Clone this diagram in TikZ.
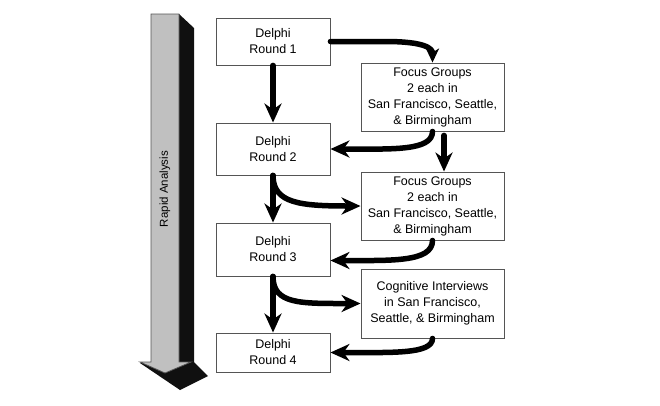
\documentclass[tikz,border=0pt]{standalone}
\usepackage{fontspec}
\setmainfont{Liberation Sans}
\usetikzlibrary{arrows.meta}
\definecolor{facegray}{RGB}{192,192,192}
\definecolor{shadegray}{RGB}{16,16,16}
\definecolor{rimgray}{RGB}{85,85,85}

\begin{document}
\begin{tikzpicture}[x=1pt,y=-1pt,
  stage/.style={draw=rimgray,line width=0.9pt,fill=white,align=center,
    font=\fontsize{12.5}{16}\selectfont,inner sep=0pt},
  flow/.style={line width=5.5pt,line cap=round,
    -{Stealth[length=19pt,width=17pt,inset=6pt]}},
  flowsmall/.style={line width=5.5pt,line cap=round,
    -{Stealth[length=14pt,width=13pt,inset=4pt]}}]
  \useasboundingbox (0,0) rectangle (660,405);
  % big arrow on the left
  \fill[shadegray] (179,14) -- (194,28) -- (194,362) -- (208,376) -- (180,390)
    -- (140,363) -- (179,362) -- cycle;
  \filldraw[fill=facegray,draw=rimgray,line width=0.8pt]
    (151,14) -- (179,14) -- (179,362) -- (191,362) -- (165,373) -- (140,362)
    -- (151,362) -- cycle;
  \node[rotate=90,font=\fontsize{11.5}{14}\selectfont] (rapid) at (165,189) {Rapid Analysis};
  % Delphi rounds
  \node[stage,minimum width=114pt,minimum height=47pt] (r1) at (273,41.5) {Delphi\\Round 1};
  \node[stage,minimum width=114pt,minimum height=52pt] (r2) at (273,149) {Delphi\\Round 2};
  \node[stage,minimum width=114pt,minimum height=53pt] (r3) at (273,249.5) {Delphi\\Round 3};
  \node[stage,minimum width=114pt,minimum height=39pt] (r4) at (273,352.5) {Delphi\\Round 4};
  % field work
  \node[stage,minimum width=143pt,minimum height=68pt] (fg1) at (432.5,97)
    {Focus Groups\\2 each in\\San Francisco, Seattle,\\\& Birmingham};
  \node[stage,minimum width=143pt,minimum height=68pt] (fg2) at (432.5,206)
    {Focus Groups\\2 each in\\San Francisco, Seattle,\\\& Birmingham};
  \node[stage,minimum width=143pt,minimum height=69pt] (ci) at (432.5,303.5)
    {Cognitive Interviews\\in San Francisco,\\Seattle, \& Birmingham};
  % connectors
  \draw[flowsmall] (r1.east) -- ++(55,0) .. controls +(40,0) and +(0,-14) .. (fg1.north);
  \draw[flow] (r1.south) -- (r2.north);
  \draw[flow] (fg1.south) .. controls +(0,20) and +(60,0) .. (r2.east);
  \draw[flow,shorten <=4pt] ([xshift=11.5pt]fg1.south) -- ([xshift=11.5pt]fg2.north);
  \draw[flow] (r2.south) -- (r3.north);
  \draw[flow] (r2.south) .. controls +(0,28) and +(-60,0) .. (fg2.west);
  \draw[flow] (fg2.south) .. controls +(0,22) and +(60,0) .. ([yshift=-11pt]r3.east);
  \draw[flow] (r3.south) -- (r4.north);
  \draw[flow] (r3.south) .. controls +(0,28) and +(-60,0) .. (ci.west);
  \draw[flow] (ci.south) .. controls +(0,16) and +(60,0) .. (r4.east);
\end{tikzpicture}
\end{document}
